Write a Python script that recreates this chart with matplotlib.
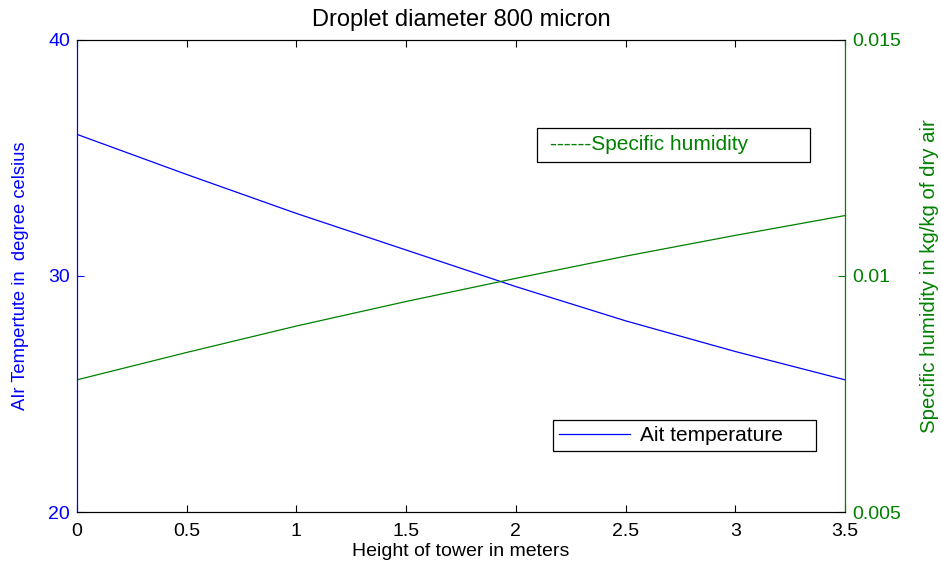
import numpy as np
import matplotlib
matplotlib.use("Agg")
from matplotlib import pyplot as plt

plt.rcParams['font.family'] = ['Liberation Sans', 'DejaVu Sans']

# tower height (m)
height = [0, 0.5, 1.0, 1.5, 2.0, 2.5, 3.0, 3.5]
# air temperature (deg C)
air_temp = [36.0, 34.3, 32.65, 31.1, 29.55, 28.1, 26.8, 25.6]
# specific humidity (kg/kg dry air)
spec_hum = [0.00780, 0.00838, 0.00894, 0.00946, 0.00995, 0.01042, 0.01086, 0.01128]

x_ticks = [0, 0.5, 1, 1.5, 2, 2.5, 3, 3.5]
x_tick_labels = ['0', '0.5', '1', '1.5', '2', '2.5', '3', '3.5']
t_ticks = [20, 30, 40]
h_ticks = [0.005, 0.01, 0.015]
h_tick_labels = ['0.005', '0.01', '0.015']

blue = '#0000ff'
green = '#008000'

fig = plt.figure(figsize=(9.41, 5.66), dpi=100)
ax1 = fig.add_axes([0.0818, 0.0954, 0.8162, 0.834])
ax2 = ax1.twinx()

l1, = ax1.plot(height, air_temp, color=blue, lw=0.9)
l2, = ax2.plot(height, spec_hum, color=green, lw=0.9)

ax1.set_xlim(0, 3.5)
ax1.set_ylim(20, 40)
ax2.set_ylim(0.005, 0.015)

ax1.set_xticks(x_ticks)
ax1.set_xticklabels(x_tick_labels, fontsize=14)
ax1.set_yticks(t_ticks)
ax1.set_yticklabels([str(t) for t in t_ticks], fontsize=14, color=blue)
ax2.set_yticks(h_ticks)
ax2.set_yticklabels(h_tick_labels, fontsize=14, color=green)

ax1.tick_params(axis='x', direction='in', top=True, length=5, pad=8)
ax1.tick_params(axis='y', direction='in', colors=blue, length=5, pad=5)
ax2.tick_params(axis='y', direction='in', colors=green, length=5, pad=5)

for a in (ax1, ax2):
    a.spines['top'].set_color('black')
    a.spines['bottom'].set_color('black')
    a.spines['left'].set_color(blue)
    a.spines['right'].set_color(green)

ax1.set_title('Droplet diameter 800 micron', fontsize=17, pad=10)
ax1.set_xlabel('Height of tower in meters', fontsize=14, labelpad=2)
ax1.set_ylabel('AIr Tempertute in  degree celsius', fontsize=13.2, color=blue, labelpad=14)
ax2.set_ylabel('Specific humidity in kg/kg of dry air', fontsize=14.7, color=green, labelpad=14)

leg2 = ax2.legend([l2], ['------Specific humidity'], loc='lower left',
                  bbox_to_anchor=(0.599, 0.742, 0.355, 0.074), mode='expand',
                  handlelength=0, handletextpad=0.25, borderaxespad=0,
                  fontsize=15, fancybox=False, edgecolor='black', framealpha=1,
                  borderpad=0.35)
leg2.legend_handles[0].set_visible(False)
for t in leg2.get_texts():
    t.set_color(green)
leg2.get_frame().set_linewidth(0.9)

leg1 = ax2.legend([l1], ['Ait temperature'], loc='lower left',
                  bbox_to_anchor=(0.620, 0.129, 0.342, 0.070), mode='expand',
                  handlelength=3.4, handletextpad=0.45, borderaxespad=0,
                  fontsize=15, fancybox=False, edgecolor='black', framealpha=1,
                  borderpad=0.3)
leg1.get_frame().set_linewidth(0.9)
ax2.add_artist(leg2)

fig.savefig('out.png', dpi=100)
